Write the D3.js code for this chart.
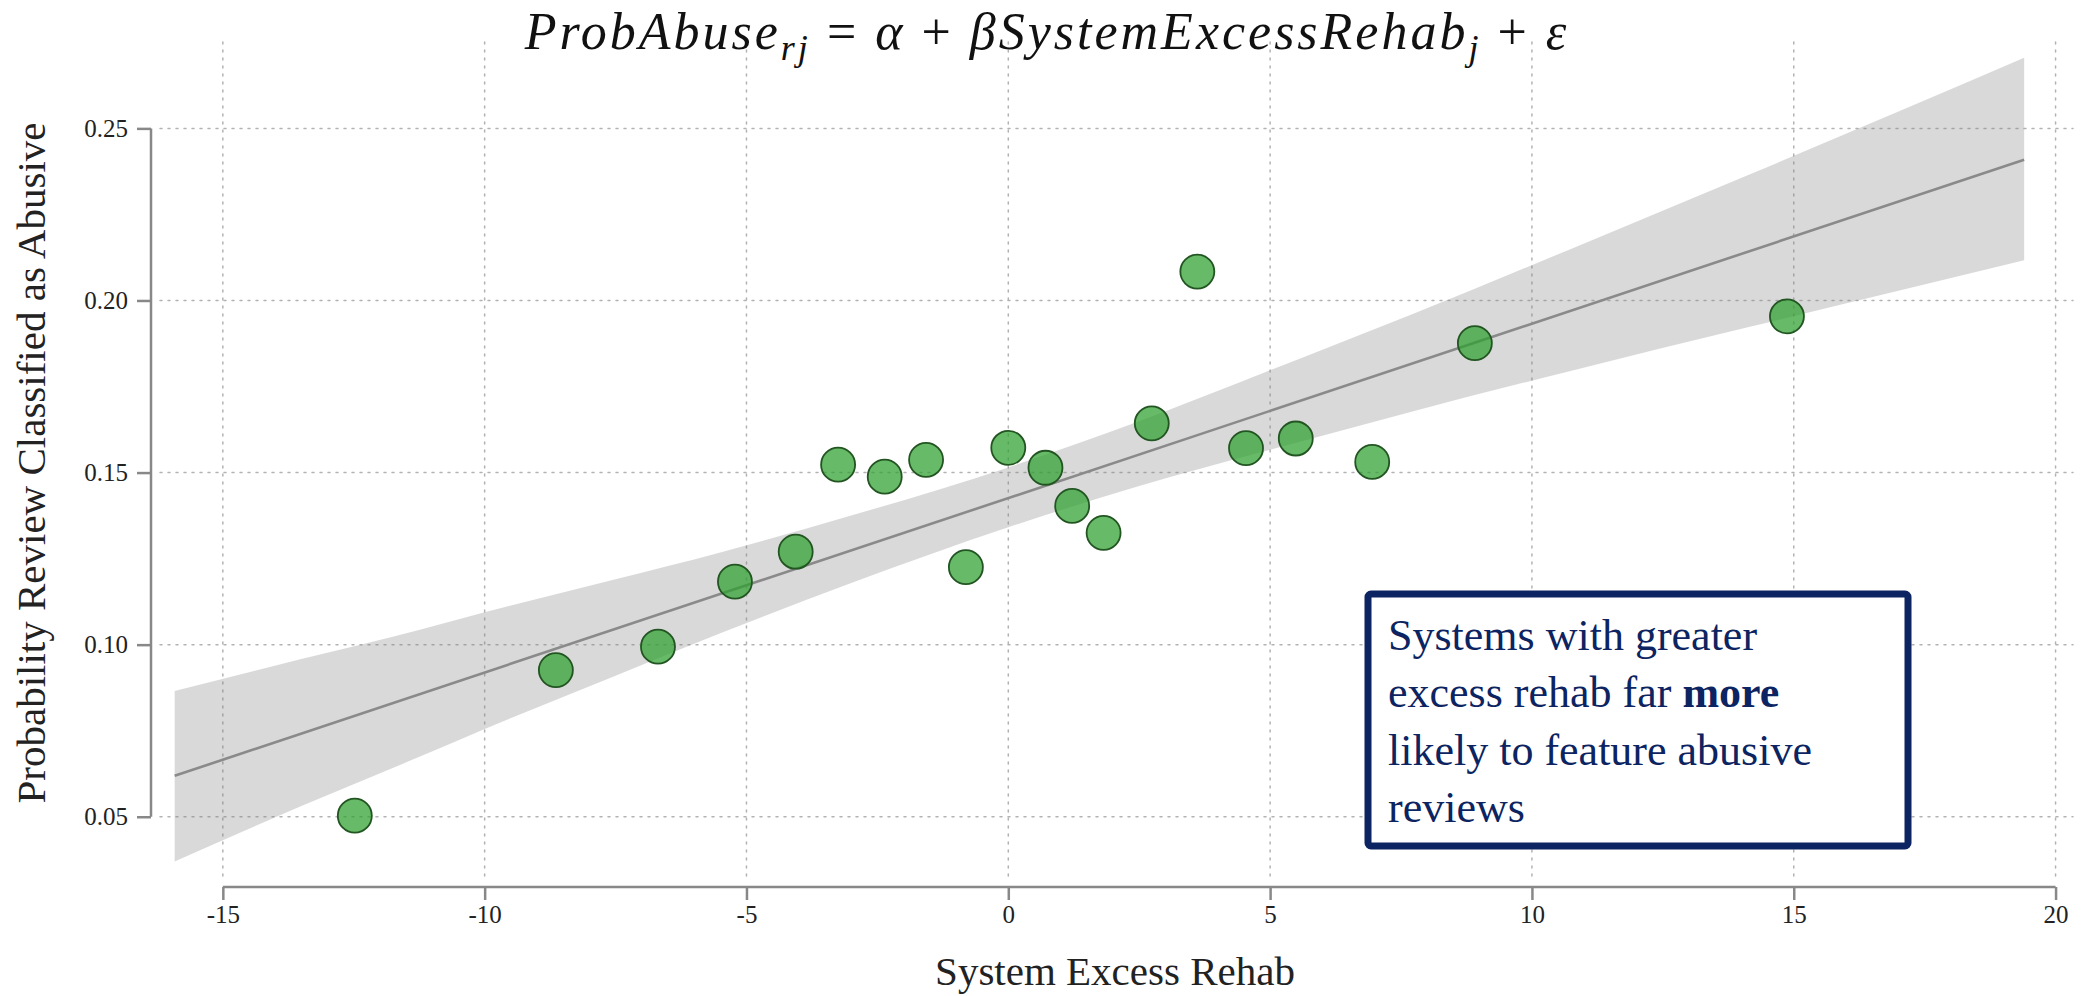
<!DOCTYPE html>
<html>
<head>
<meta charset="utf-8">
<script src="https://cdn.jsdelivr.net/npm/d3@7/dist/d3.min.js"></script>
<style>
  body { margin: 0; background: #fff; }
  svg text { font-family: "Liberation Serif", "Times New Roman", serif; }
</style>
</head>
<body>
<div id="chart"></div>
<script>
// data
const excessRehab = [-12.48, -8.64, -6.69, -5.22, -4.06, -3.25, -2.36, -1.57, -0.81, 0.0,
  0.71, 1.22, 1.82, 2.74, 3.61, 4.54, 5.49, 6.95, 8.91, 14.87];
const probAbuse = [0.0503, 0.0926, 0.0994, 0.1183, 0.127, 0.1523, 0.1488, 0.1537, 0.1225, 0.1572,
  0.1514, 0.1403, 0.1325, 0.1643, 0.2084, 0.1571, 0.1599, 0.1531, 0.1876, 0.1954];

// fitted line ends + confidence band
const fitX = [-15.92, 19.4];
const fitY = [0.0619, 0.2409];
const bandX = [-15.92, -13.5, -11.2, -10.0, -7.5, -5.5, -3.0, 0.0, 2.5, 5.0, 7.7, 10.7, 14.2, 17.0, 19.4];
const bandHi = [0.0865, 0.0958, 0.1045, 0.1094, 0.119, 0.1268, 0.1375, 0.1515, 0.1649, 0.1797, 0.1959, 0.2147, 0.2369, 0.2549, 0.2705];
const bandLo = [0.037, 0.0531, 0.0677, 0.0755, 0.091, 0.1033, 0.1179, 0.1341, 0.1461, 0.1566, 0.1677, 0.1794, 0.1925, 0.2028, 0.2117];

const xTicks = [-15, -10, -5, 0, 5, 10, 15, 20];
const yTicks = [0.05, 0.1, 0.15, 0.2, 0.25];

const width = 2089, height = 996;
const navy = "#0c2461";

const svg = d3.select("#chart").append("svg")
  .attr("width", width).attr("height", height);

// plot box (spines are offset outside it)
const box = { left: 160, right: 2073, top: 42, bottom: 878 };

const x = d3.scaleLinear().domain([-16.2, 20.333]).range([box.left, box.right]);
const y = d3.scaleLinear().domain([0.0322, 0.2751]).range([box.bottom, box.top]);

// grid
const grid = svg.append("g").attr("stroke", "#b3b3b3").attr("stroke-width", 1.5)
  .attr("stroke-dasharray", "2,6").attr("stroke-linecap", "round");
grid.selectAll(".gx").data(xTicks).enter().append("line")
  .attr("x1", d => x(d)).attr("x2", d => x(d))
  .attr("y1", box.top).attr("y2", box.bottom);
grid.selectAll(".gy").data(yTicks).enter().append("line")
  .attr("y1", d => y(d)).attr("y2", d => y(d))
  .attr("x1", box.left).attr("x2", box.right);

// band
const band = d3.area()
  .x((d, i) => x(d))
  .y0((d, i) => y(bandLo[i]))
  .y1((d, i) => y(bandHi[i]))
  .curve(d3.curveMonotoneX);
svg.append("path").datum(bandX).attr("d", band)
  .attr("fill", "#808080").attr("fill-opacity", 0.3);

// fit line
svg.append("path").datum(fitX)
  .attr("d", d3.line().x(d => x(d)).y((d, i) => y(fitY[i])))
  .attr("stroke", "#8a8a8a").attr("stroke-width", 2.6).attr("fill", "none");

// points on top, a bit see-through
svg.append("g").selectAll("circle")
  .data(excessRehab.map((d, i) => [d, probAbuse[i]]))
  .enter().append("circle")
  .attr("cx", d => x(d[0])).attr("cy", d => y(d[1])).attr("r", 17)
  .attr("fill", "#2ca02c").attr("fill-opacity", 0.72)
  .attr("stroke", "#225522").attr("stroke-width", 1.8);

// axes (range frame, offset)
const xAxisG = svg.append("g").attr("transform", "translate(0,887)")
  .call(d3.axisBottom(x).tickValues(xTicks).tickSize(13).tickSizeOuter(0).tickPadding(5)
    .tickFormat(d3.format("d")));
xAxisG.select(".domain").remove();
xAxisG.append("line").attr("x1", x(-15)).attr("x2", x(20)).attr("y1", 0).attr("y2", 0);

const yAxisG = svg.append("g").attr("transform", "translate(151,0)")
  .call(d3.axisLeft(y).tickValues(yTicks).tickSize(14).tickSizeOuter(0).tickPadding(9)
    .tickFormat(d3.format(".2f")));
yAxisG.select(".domain").remove();
yAxisG.append("line").attr("x1", 0).attr("x2", 0).attr("y1", y(0.05)).attr("y2", y(0.25));

[xAxisG, yAxisG].forEach(g => {
  g.selectAll("line").attr("stroke", "#888").attr("stroke-width", 2.5);
  g.selectAll("text").attr("font-size", 25).attr("fill", "#222")
    .attr("font-family", "Liberation Serif");
});
xAxisG.selectAll(".tick text").text(d => d < 0 ? "-" + Math.abs(d) : d);

// axis titles
svg.append("text").attr("x", 1115).attr("y", 985)
  .attr("text-anchor", "middle").attr("font-size", 41).attr("fill", "#222")
  .text("System Excess Rehab");
svg.append("text").attr("transform", "translate(45,463) rotate(-90)")
  .attr("text-anchor", "middle").attr("font-size", 41).attr("fill", "#222")
  .text("Probability Review Classified as Abusive");

// title (math)
const title = svg.append("text").attr("x", 1047).attr("y", 49)
  .attr("text-anchor", "middle").attr("font-size", 52).attr("font-style", "italic")
  .attr("font-family", "Liberation Serif")
  .attr("letter-spacing", 3).attr("fill", "#111");
title.append("tspan").text("ProbAbuse");
title.append("tspan").attr("font-size", 36).attr("dy", 11).text("rj");
title.append("tspan").attr("dy", -11).attr("font-style", "normal").text(" = ");
title.append("tspan").text("α");
title.append("tspan").attr("font-style", "normal").text(" + ");
title.append("tspan").text("βSystemExcessRehab");
title.append("tspan").attr("font-size", 36).attr("dy", 11).text("j");
title.append("tspan").attr("dy", -11).attr("font-style", "normal").text(" + ");
title.append("tspan").text("ε");

// annotation box
svg.append("rect").attr("x", 1368).attr("y", 594).attr("width", 540).attr("height", 252)
  .attr("rx", 3).attr("fill", "#fff").attr("stroke", navy).attr("stroke-width", 7);
const note = svg.append("text").attr("font-size", 44).attr("fill", navy);
const noteLines = [["Systems with greater"], ["excess rehab far ", "more"], ["likely to feature abusive"], ["reviews"]];
noteLines.forEach((parts, i) => {
  const t = note.append("tspan").attr("x", 1388).attr("y", 650 + i * 57.3);
  parts.forEach((p, j) => {
    t.append("tspan").attr("font-weight", j === 1 ? "bold" : "normal").text(p);
  });
});
</script>
</body>
</html>
